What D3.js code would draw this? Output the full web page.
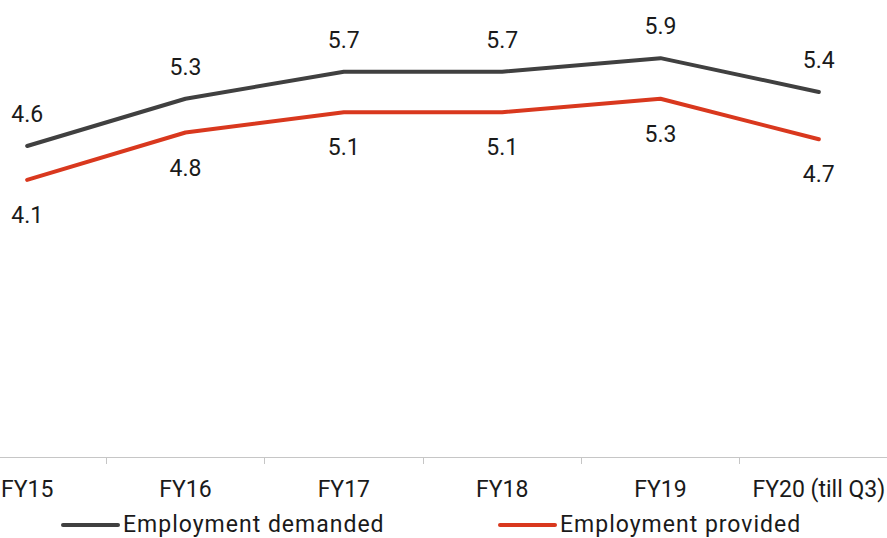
<!DOCTYPE html>
<html lang="en">
<head>
	<meta charset="utf-8">
	<title>Employment demanded vs provided</title>
	<script src="https://cdn.jsdelivr.net/npm/d3@7"></script>
	<style>
		body { margin: 0; background: #fff; overflow: hidden; }
		svg text { font-family: Roboto, "Noto Sans", sans-serif; fill: #1a1a1a; }
		.axis path, .axis line { stroke: #c6c6c6; shape-rendering: crispEdges; }
	</style>
</head>
<body>
	<script>
		//Width and height
		var w = 887;
		var h = 538;

		// data
		var categories = ["FY15", "FY16", "FY17", "FY18", "FY19", "FY20 (till Q3)"];
		var demanded = [4.6, 5.3, 5.7, 5.7, 5.9, 5.4];
		var provided = [4.1, 4.8, 5.1, 5.1, 5.3, 4.7];
		var seriesNames = ["Employment demanded", "Employment provided"];
		var colors = ["#404040", "#d9381e"];

		var xScale = d3.scaleBand()
			.domain(categories)
			.range([-52, 898]);

		var yScale = d3.scaleLinear()
			.domain([0, 7])
			.range([457, 457 - 7 * 67.6]);

		var svg = d3.select("body")
			.append("svg")
			.attr("width", w)
			.attr("height", h);

		// x axis
		var xAxis = d3.axisBottom(xScale).tickSize(0).tickPadding(24);
		var gx = svg.append("g")
			.attr("class", "axis")
			.attr("transform", "translate(0,457)")
			.call(xAxis);
		gx.selectAll("text").attr("font-size", "23px").attr("fill", "#1a1a1a");
		gx.select(".domain").attr("d", "M" + xScale.range()[0] + ",0H" + xScale.range()[1]);

		// separator ticks between categories
		gx.selectAll(".sep")
			.data(categories.slice(1))
			.enter()
			.append("line")
			.attr("class", "sep")
			.attr("x1", function (d) { return xScale(d); })
			.attr("x2", function (d) { return xScale(d); })
			.attr("y1", 0)
			.attr("y2", 7);

		var cx = function (d, i) { return xScale(categories[i]) + xScale.bandwidth() / 2; };

		var line = d3.line()
			.x(cx)
			.y(function (d) { return yScale(d); });

		var series = [demanded, provided];

		svg.selectAll(".series")
			.data(series)
			.enter()
			.append("path")
			.attr("class", "series")
			.attr("d", function (d) { return line(d); })
			.attr("fill", "none")
			.attr("stroke", function (d, i) { return colors[i]; })
			.attr("stroke-width", 4)
			.attr("stroke-linecap", "round")
			.attr("stroke-linejoin", "round");

		// labels: demanded above, provided below
		svg.selectAll(".lblD")
			.data(demanded)
			.enter()
			.append("text")
			.attr("x", cx)
			.attr("y", function (d) { return yScale(d) - 24; })
			.attr("text-anchor", "middle")
			.attr("font-size", "23px")
			.text(function (d) { return d.toFixed(1); });

		svg.selectAll(".lblP")
			.data(provided)
			.enter()
			.append("text")
			.attr("x", cx)
			.attr("y", function (d) { return yScale(d) + 43; })
			.attr("text-anchor", "middle")
			.attr("font-size", "23px")
			.text(function (d) { return d.toFixed(1); });

		// legend
		var legendX = [63, 500];
		var legend = svg.selectAll(".legend")
			.data(seriesNames)
			.enter()
			.append("g")
			.attr("transform", function (d, i) { return "translate(" + legendX[i] + ",525)"; });

		legend.append("line")
			.attr("x1", 0)
			.attr("x2", 55)
			.attr("stroke", function (d, i) { return colors[i]; })
			.attr("stroke-width", 4)
			.attr("stroke-linecap", "round");

		legend.append("text")
			.attr("x", 60)
			.attr("y", 7)
			.attr("font-size", "23px")
			.attr("letter-spacing", "1px")
			.text(function (d) { return d; });
	</script>
</body>
</html>
